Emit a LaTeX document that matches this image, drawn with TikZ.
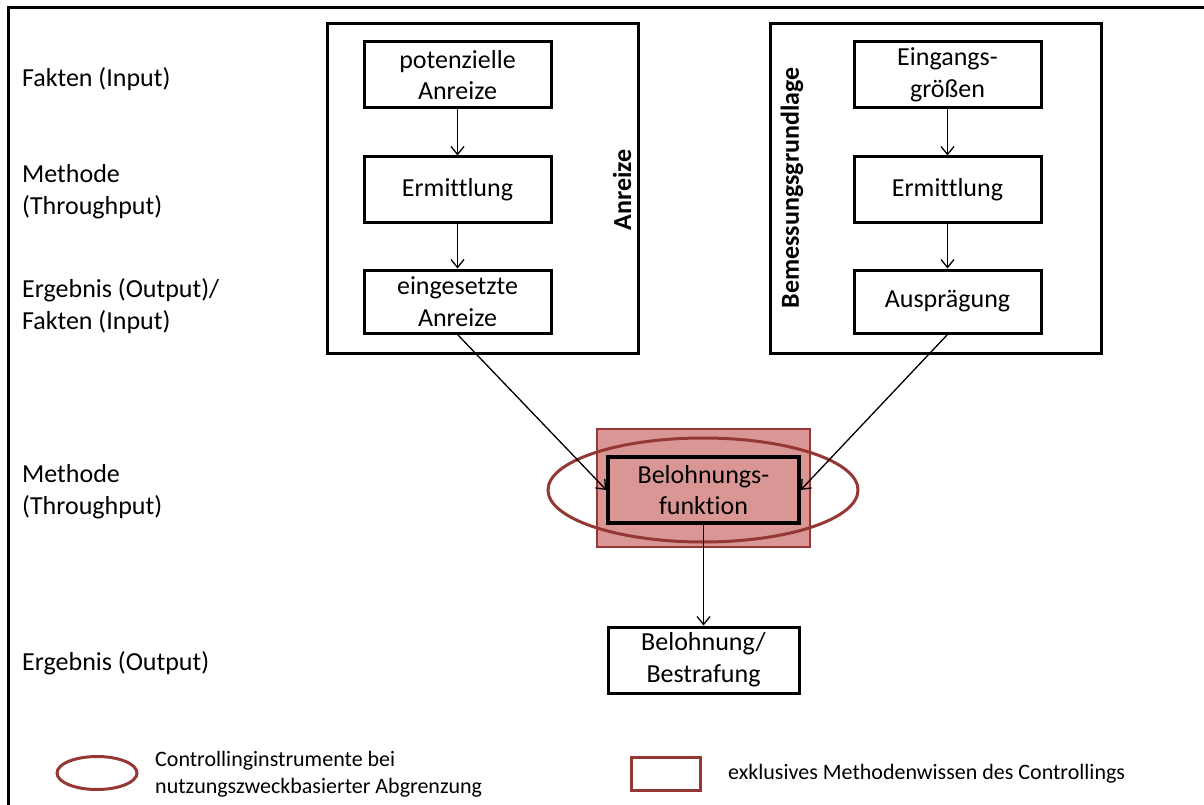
\documentclass[tikz,border=0pt]{standalone}
\usepackage{fontspec}
\setmainfont{Carlito}[Ligatures=NoCommon]
\usetikzlibrary{arrows.meta,shapes.geometric}
\definecolor{dred}{HTML}{953735}
\definecolor{pinkf}{HTML}{D99694}
\tikzset{
  stepbox/.style={draw=black, line width=3pt, minimum width=187pt, minimum height=65pt, inner sep=0pt, align=center, font=\fontsize{26}{31.7}\selectfont},
  groupbox/.style={draw=black, line width=3pt},
  lbl/.style={anchor=west, inner sep=0pt, align=left, font=\fontsize{26}{31.7}\selectfont},
  vlbl/.style={rotate=90, inner sep=0pt, font=\fontsize{26}{31.7}\selectfont\bfseries},
  leg/.style={anchor=west, inner sep=0pt, align=left, font=\fontsize{22}{27}\selectfont},
  arr/.style={line width=1.3pt, -{Straight Barb[length=8pt,width=13pt,line width=1.3pt]}}
}
\begin{document}
\begin{tikzpicture}[x=1pt,y=-1pt]
\useasboundingbox (0,0) rectangle (1204,805);
% outer frame
\draw[line width=3pt] (8,830) -- (8,8) -- (1230,8);
% group boxes
\node[groupbox, minimum width=311pt, minimum height=329pt, inner sep=0pt] (ga) at (482.5,188.5) {};
\node[groupbox, minimum width=331pt, minimum height=329pt, inner sep=0pt] (gb) at (935.5,188.5) {};
\node[vlbl] (ta) at (622,190) {Anreize};
\node[vlbl] (tb) at (792,188) {Bemessungsgrundlage};
% left labels
\node[lbl] (l1) at (22,79) {Fakten (Input)};
\node[lbl] (l2) at (22,192) {Methode\\(Throughput)};
\node[lbl] (l3) at (22,306) {Ergebnis (Output)/\\Fakten (Input)};
\node[lbl] (l4) at (22,492) {Methode\\(Throughput)};
\node[lbl] (l5) at (22,663) {Ergebnis (Output)};
% left chain
\node[stepbox, minimum height=66pt] (p1) at (457.5,75) {potenzielle\\Anreize};
\node[stepbox] (p2) at (457.5,189.5) {Ermittlung};
\node[stepbox, minimum height=63pt] (p3) at (457.5,301.5) {eingesetzte\\Anreize};
% right chain
\node[stepbox, minimum height=66pt] (q1) at (947.5,75) {Eingangs-\\größen};
\node[stepbox] (q2) at (947.5,189.5) {Ermittlung};
\node[stepbox, minimum height=63pt] (q3) at (947.5,301.5) {Ausprägung};
% central
\node[draw=dred, fill=pinkf, line width=2.4pt, minimum width=213pt, minimum height=118pt, inner sep=0pt] (rr) at (703.5,488) {};
\node[ellipse, draw=dred, line width=3pt, minimum width=310pt, minimum height=104pt, inner sep=0pt] (el) at (703,490) {};
\node[stepbox, line width=3.4pt, minimum width=191pt, minimum height=66pt] (f) at (703.5,490) {Belohnungs-\\funktion};
\node[stepbox, minimum width=191pt, minimum height=66pt] (g) at (703.5,660) {Belohnung/\\Bestrafung};
% arrows
\draw[arr] (p1.south) -- (p2.north);
\draw[arr] (p2.south) -- (p3.north);
\draw[arr] (q1.south) -- (q2.north);
\draw[arr] (q2.south) -- (q3.north);
\draw[arr] (p3.south) -- (f.west);
\draw[arr] (q3.south) -- (f.east);
\draw[arr] (f.south) -- (g.north);
% legend
\node[ellipse, draw=dred, line width=3pt, minimum width=80pt, minimum height=33pt, inner sep=0pt] (le) at (97,773) {};
\node[leg] (lt1) at (155,774) {Controllinginstrumente bei\\nutzungszweckbasierter Abgrenzung};
\node[draw=dred, line width=3pt, minimum width=69pt, minimum height=33pt, inner sep=0pt] (lr) at (665.5,773.5) {};
\node[leg] (lt2) at (728,774) {exklusives Methodenwissen des Controllings};
\end{tikzpicture}
\end{document}
